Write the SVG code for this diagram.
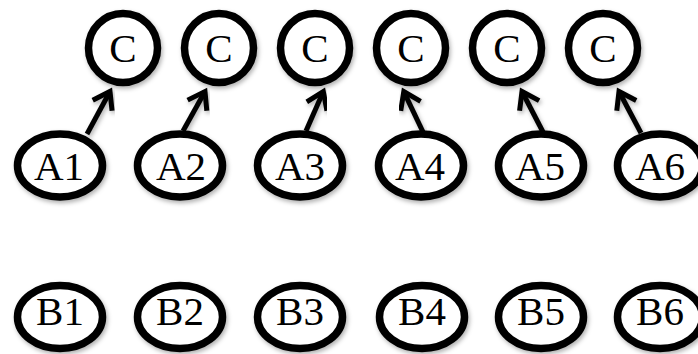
<svg xmlns="http://www.w3.org/2000/svg" width="698" height="354" viewBox="0 0 698 354">
<defs>
<style>
.n{fill:#fff;stroke:#000;stroke-width:7.5;filter:url(#sh)}
.t{font-family:"Liberation Serif","Times New Roman",serif;font-size:41px;text-anchor:middle;fill:#000}
.e{stroke:#000;stroke-width:5;fill:none;marker-end:url(#ah);filter:url(#sh)}
</style>
<filter id="sh" x="-20%" y="-20%" width="140%" height="140%">
<feDropShadow dx="1.5" dy="2.5" stdDeviation="2" flood-color="#000" flood-opacity="0.3"/>
</filter>
<marker id="ah" markerUnits="userSpaceOnUse" markerWidth="30" markerHeight="30" viewBox="-20 -15 25 30" refX="0" refY="0" orient="auto" overflow="visible">
<path d="M-16,-11 L0,0 L-16,11" fill="none" stroke="#000" stroke-width="5" stroke-linejoin="miter"/>
</marker>
</defs>
<g id="connectors">
<line class="e" x1="87" y1="134" x2="110" y2="91.5"/>
<line class="e" x1="183" y1="131" x2="205" y2="91.5"/>
<line class="e" x1="306" y1="131" x2="323.3" y2="91.6"/>
<line class="e" x1="423" y1="132" x2="403.8" y2="91.6"/>
<line class="e" x1="543" y1="132" x2="522" y2="91.5"/>
<line class="e" x1="641" y1="133" x2="619" y2="91.5"/>
</g>
<g id="C1"><circle class="n" cx="123" cy="48" r="34.5"/><text class="t" x="123" y="62">C</text></g>
<g id="C2"><circle class="n" cx="219" cy="48" r="34.5"/><text class="t" x="219" y="62">C</text></g>
<g id="C3"><circle class="n" cx="315" cy="48" r="34.5"/><text class="t" x="315" y="62">C</text></g>
<g id="C4"><circle class="n" cx="411" cy="48" r="34.5"/><text class="t" x="411" y="62">C</text></g>
<g id="C5"><circle class="n" cx="507" cy="48" r="34.5"/><text class="t" x="507" y="62">C</text></g>
<g id="C6"><circle class="n" cx="603" cy="48" r="34.5"/><text class="t" x="603" y="62">C</text></g>
<g id="A1"><ellipse class="n" cx="60" cy="165.5" rx="42.5" ry="31.5"/><text class="t" x="59" y="180">A1</text></g>
<g id="A2"><ellipse class="n" cx="180" cy="165.5" rx="42.5" ry="31.5"/><text class="t" x="181" y="180">A2</text></g>
<g id="A3"><ellipse class="n" cx="300" cy="165.5" rx="42.5" ry="31.5"/><text class="t" x="300" y="180">A3</text></g>
<g id="A4"><ellipse class="n" cx="421" cy="165.5" rx="42.5" ry="31.5"/><text class="t" x="420" y="180">A4</text></g>
<g id="A5"><ellipse class="n" cx="541" cy="165.5" rx="42.5" ry="31.5"/><text class="t" x="540" y="180">A5</text></g>
<g id="A6"><ellipse class="n" cx="660" cy="165.5" rx="42.5" ry="31.5"/><text class="t" x="660" y="180">A6</text></g>
<g id="B1"><ellipse class="n" cx="60" cy="317" rx="42.5" ry="31.5"/><text class="t" x="60" y="325">B1</text></g>
<g id="B2"><ellipse class="n" cx="180" cy="317" rx="42.5" ry="31.5"/><text class="t" x="180" y="325">B2</text></g>
<g id="B3"><ellipse class="n" cx="300" cy="317" rx="42.5" ry="31.5"/><text class="t" x="300" y="325">B3</text></g>
<g id="B4"><ellipse class="n" cx="422" cy="317" rx="42.5" ry="31.5"/><text class="t" x="422" y="325">B4</text></g>
<g id="B5"><ellipse class="n" cx="541" cy="317" rx="42.5" ry="31.5"/><text class="t" x="541" y="325">B5</text></g>
<g id="B6"><ellipse class="n" cx="660" cy="317" rx="42.5" ry="31.5"/><text class="t" x="660" y="325">B6</text></g>
</svg>
